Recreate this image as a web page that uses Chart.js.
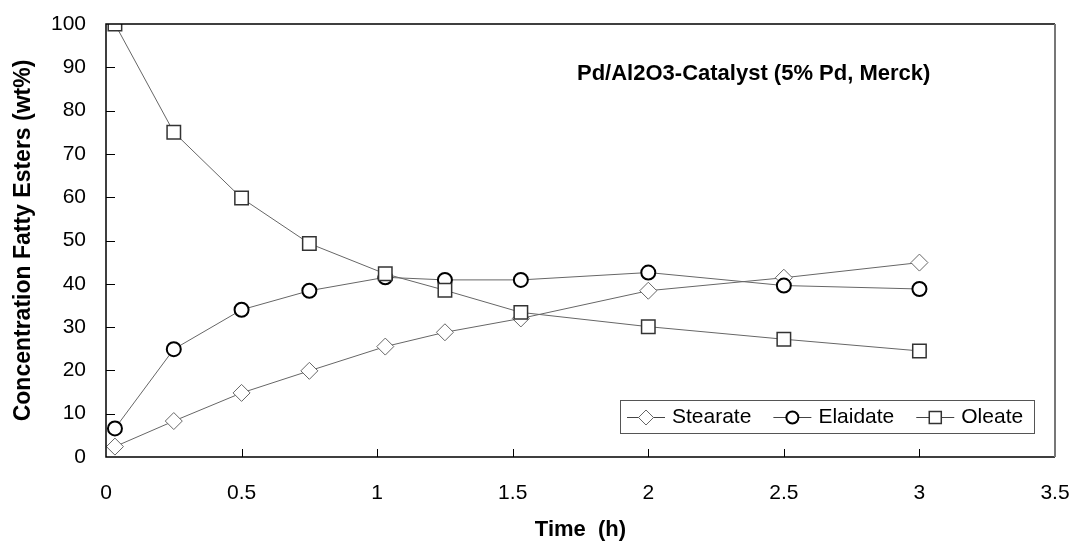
<!DOCTYPE html>
<html>
<head>
<meta charset="utf-8">
<script src="https://cdn.jsdelivr.net/npm/chart.js@4.4.0/dist/chart.umd.min.js"></script>
<style>
    html, body { margin: 0; padding: 0; background: #fff; }
    #wrap { width: 1073px; height: 547px; position: relative; }
</style>
</head>
<body>
<div id="wrap"><canvas id="grafico"></canvas></div>
<script>
// datos
const tiempo = [0.033, 0.25, 0.5, 0.75, 1.03, 1.25, 1.53, 2, 2.5, 3];
const stearate = [2.4, 8.3, 14.8, 19.9, 25.5, 28.8, 32, 38.4, 41.4, 44.9];
const elaidate = [6.6, 24.9, 34, 38.4, 41.5, 40.9, 40.9, 42.6, 39.6, 38.8];
const oleate = [100, 75, 59.8, 49.3, 42.3, 38.5, 33.4, 30.1, 27.2, 24.5];
const nombresSeries = ['Stearate', 'Elaidate', 'Oleate'];
const xTicks = [0, 0.5, 1, 1.5, 2, 2.5, 3, 3.5];
const yTicks = [0, 10, 20, 30, 40, 50, 60, 70, 80, 90, 100];
const anotacion = 'Pd/Al2O3-Catalyst (5% Pd, Merck)';

const fuente = '"Liberation Sans", Arial, sans-serif';

function puntos(valores) {
    let lista = [];
    for (let i = 0; i < tiempo.length; i++) {
        lista.push({x: tiempo[i], y: valores[i]});
    }
    return lista;
}

const estilos = [
    {pointStyle: 'rectRot', radius: 8.5, borderColor: '#666', borderWidth: 1},
    {pointStyle: 'circle', radius: 7, borderColor: '#000', borderWidth: 2},
    {pointStyle: 'rect', radius: 9.5, borderColor: '#333', borderWidth: 1.5}
];

// marco, marcas hacia dentro, texto y leyenda
const extras = {
    id: 'extras',
    afterDraw(chart) {
        const ctx = chart.ctx;
        const a = chart.chartArea;
        const xs = chart.scales.x;
        const ys = chart.scales.y;
        ctx.save();

        ctx.strokeStyle = '#000';
        ctx.lineWidth = 1;
        for (let i = 1; i < yTicks.length - 1; i++) {
            let py = Math.round(ys.getPixelForValue(yTicks[i])) + 0.5;
            ctx.beginPath();
            ctx.moveTo(a.left, py);
            ctx.lineTo(a.left + 9, py);
            ctx.stroke();
        }
        for (let i = 1; i < xTicks.length - 1; i++) {
            let px = Math.round(xs.getPixelForValue(xTicks[i])) + 0.5;
            ctx.beginPath();
            ctx.moveTo(px, a.bottom);
            ctx.lineTo(px, a.bottom - 8);
            ctx.stroke();
        }

        ctx.lineWidth = 1.5;
        ctx.beginPath();
        ctx.moveTo(a.right, a.top);
        ctx.lineTo(a.left, a.top);
        ctx.lineTo(a.left, a.bottom);
        ctx.lineTo(a.right, a.bottom);
        ctx.stroke();
        ctx.strokeStyle = '#777';
        ctx.lineWidth = 2;
        ctx.beginPath();
        ctx.moveTo(a.right, a.top);
        ctx.lineTo(a.right, a.bottom);
        ctx.stroke();

        ctx.fillStyle = '#000';
        ctx.font = 'bold 22px ' + fuente;
        ctx.textAlign = 'left';
        ctx.textBaseline = 'middle';
        ctx.fillText(anotacion, 577, 74);

        // leyenda
        const cajaX = 620, cajaY = 400, cajaW = 414, cajaH = 33;
        ctx.fillStyle = '#fff';
        ctx.fillRect(cajaX, cajaY, cajaW, cajaH);
        ctx.strokeStyle = '#555';
        ctx.lineWidth = 1;
        ctx.strokeRect(cajaX + 0.5, cajaY + 0.5, cajaW, cajaH);
        ctx.font = '21px ' + fuente;
        let x = cajaX + 7;
        const cy = cajaY + cajaH / 2 + 1;
        for (let i = 0; i < nombresSeries.length; i++) {
            ctx.strokeStyle = '#444';
            ctx.lineWidth = 1;
            ctx.beginPath();
            ctx.moveTo(x, cy);
            ctx.lineTo(x + 38, cy);
            ctx.stroke();
            ctx.fillStyle = '#fff';
            ctx.strokeStyle = estilos[i].borderColor;
            ctx.lineWidth = estilos[i].borderWidth;
            Chart.helpers.drawPoint(ctx, {
                pointStyle: estilos[i].pointStyle,
                radius: estilos[i].radius - 1,
                rotation: 0,
                borderWidth: estilos[i].borderWidth
            }, x + 19, cy);
            ctx.fillStyle = '#000';
            ctx.fillText(nombresSeries[i], x + 45, cy);
            x = x + 45 + ctx.measureText(nombresSeries[i]).width + 22;
        }
        ctx.restore();
    }
};

const series = [stearate, elaidate, oleate];
const datasets = [];
for (let i = 0; i < series.length; i++) {
    datasets.push({
        label: nombresSeries[i],
        data: puntos(series[i]),
        borderColor: '#666',
        borderWidth: 1,
        pointStyle: estilos[i].pointStyle,
        pointRadius: estilos[i].radius,
        pointBackgroundColor: '#fff',
        pointBorderColor: estilos[i].borderColor,
        pointBorderWidth: estilos[i].borderWidth,
        order: 2 - i
    });
}

Chart.defaults.font.family = fuente;
Chart.defaults.color = '#000';

const grafico = new Chart(document.getElementById('grafico'), {
    type: 'line',
    data: {datasets: datasets},
    options: {
        responsive: true,
        maintainAspectRatio: false,
        animation: false,
        layout: {padding: {top: 24, right: 18, left: 0, bottom: 0}},
        plugins: {legend: {display: false}, tooltip: {enabled: false}},
        scales: {
            x: {
                type: 'linear',
                min: 0,
                max: 3.5,
                afterBuildTicks: (s) => { s.ticks = xTicks.map(v => ({value: v})); },
                afterFit: (s) => { s.height = 90; s.paddingLeft = 0; s.paddingRight = 0; },
                ticks: {font: {size: 21}, padding: 24, maxRotation: 0, callback: (v) => String(v)},
                grid: {display: false, drawTicks: false},
                border: {display: false},
                title: {display: true, text: 'Time  (h)', font: {size: 22, weight: 'bold'}, padding: {top: 0, bottom: 4}}
            },
            y: {
                min: 0,
                max: 100,
                afterBuildTicks: (s) => { s.ticks = yTicks.map(v => ({value: v})); },
                afterFit: (s) => { s.width = 106; s.paddingTop = 0; s.paddingBottom = 0; },
                ticks: {font: {size: 21}, padding: 20, callback: (v) => String(v)},
                grid: {display: false, drawTicks: false},
                border: {display: false},
                title: {display: true, text: 'Concentration Fatty Esters (wt%)', font: {size: 23, weight: 'bold'}, padding: {top: 10, bottom: 0}}
            }
        }
    },
    plugins: [extras]
});
</script>
</body>
</html>
